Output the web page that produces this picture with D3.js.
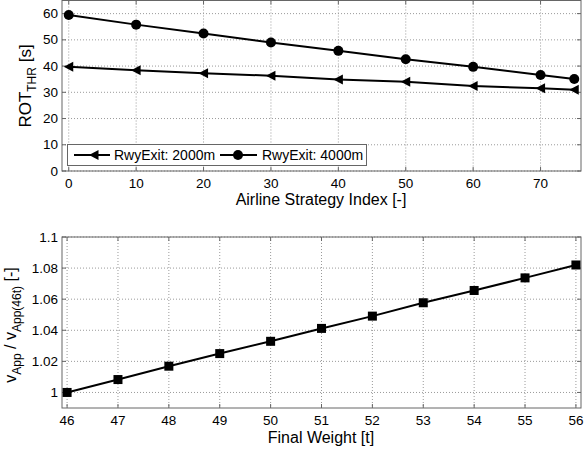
<!DOCTYPE html>
<html><head><meta charset="utf-8">
<script src="https://cdn.jsdelivr.net/npm/d3@7"></script>
<style>
body{margin:0;background:#fff;}
text{font-family:"Liberation Sans",Arial,sans-serif;fill:#000;}
</style></head>
<body><svg id="c" width="584" height="450"></svg>
<script>
// Top chart data
const strategyIdx = [0,10,20,30,40,50,60,70,75];
const rot2000 = [39.7,38.4,37.3,36.3,34.9,34.0,32.4,31.5,31.0];
const rot4000 = [59.5,55.8,52.4,49.0,45.8,42.6,39.7,36.6,35.1];
const topXTicks = [0,10,20,30,40,50,60,70];
const topYTicks = [0,10,20,30,40,50,60];
const legendLabels = ["RwyExit: 2000m","RwyExit: 4000m"];
// Bottom chart data
const finalWeight = [46,47,48,49,50,51,52,53,54,55,56];
const vRatio = [1.000,1.0083,1.0169,1.025,1.0329,1.0412,1.0491,1.0577,1.0656,1.0737,1.082];
const botXTicks = [46,47,48,49,50,51,52,53,54,55,56];
const botYTicks = [1,1.02,1.04,1.06,1.08,1.1];

const svg = d3.select("#c");
const L = 62, R = 581;

function axesBox(g, x, y, xt, yt, yfmt){
  const [x0,x1] = x.range(), [y0,y1] = y.range();
  xt.forEach(d=>{
    g.append("line").attr("x1",x(d)).attr("x2",x(d)).attr("y1",y1).attr("y2",y0)
      .attr("stroke","#9a9a9a").attr("stroke-width",1).attr("stroke-dasharray","1,2");
  });
  yt.forEach(d=>{
    g.append("line").attr("x1",x0).attr("x2",x1).attr("y1",y(d)).attr("y2",y(d))
      .attr("stroke","#9a9a9a").attr("stroke-width",1).attr("stroke-dasharray","1,2");
  });
  const tl = 4;
  xt.forEach(d=>{
    g.append("line").attr("x1",x(d)).attr("x2",x(d)).attr("y1",y0).attr("y2",y0-tl).attr("stroke","#666");
    g.append("line").attr("x1",x(d)).attr("x2",x(d)).attr("y1",y1).attr("y2",y1+tl).attr("stroke","#666");
  });
  yt.forEach(d=>{
    g.append("line").attr("x1",x0).attr("x2",x0+tl).attr("y1",y(d)).attr("y2",y(d)).attr("stroke","#666");
    g.append("line").attr("x1",x1).attr("x2",x1-tl).attr("y1",y(d)).attr("y2",y(d)).attr("stroke","#666");
  });
  g.append("rect").attr("x",x0).attr("y",y1).attr("width",x1-x0).attr("height",y0-y1)
    .attr("fill","none").attr("stroke","#666").attr("stroke-width",1);
  g.selectAll(".xl").data(xt).join("text").attr("x",d=>x(d)).attr("y",y0+17)
    .attr("text-anchor","middle").attr("font-size",13.5).text(d=>d);
  g.selectAll(".yl").data(yt).join("text").attr("x",x0-4).attr("y",d=>y(d)+4.5)
    .attr("text-anchor","end").attr("font-size",13.5).text(yfmt);
}

// ---------- Top chart ----------
const xT = d3.scaleLinear().domain([-1,76]).range([L,R]);
const yT = d3.scaleLinear().domain([0,65]).range([171,0.5]);
const gT = svg.append("g");
axesBox(gT, xT, yT, topXTicks, topYTicks, d=>d);

const lineT = d3.line().x((d,i)=>xT(strategyIdx[i])).y(d=>yT(d));
gT.append("path").attr("d",lineT(rot2000)).attr("fill","none").attr("stroke","#000").attr("stroke-width",2);
gT.append("path").attr("d",lineT(rot4000)).attr("fill","none").attr("stroke","#000").attr("stroke-width",2);
const tri = (cx,cy,s)=>`M${cx-s},${cy}L${cx+s*0.9},${cy-s}L${cx+s*0.9},${cy+s}Z`;
gT.selectAll(".tri").data(rot2000).join("path")
  .attr("d",(d,i)=>tri(xT(strategyIdx[i]),yT(d),5)).attr("fill","#000");
gT.selectAll(".cir").data(rot4000).join("circle")
  .attr("cx",(d,i)=>xT(strategyIdx[i])).attr("cy",d=>yT(d)).attr("r",5).attr("fill","#000");

// legend
const lg = gT.append("g");
lg.append("rect").attr("x",67.5).attr("y",144.5).attr("width",299).attr("height",21)
  .attr("fill","#fff").attr("stroke","#666");
lg.append("line").attr("x1",74).attr("x2",110).attr("y1",155).attr("y2",155).attr("stroke","#000").attr("stroke-width",2);
lg.append("path").attr("d",tri(94,155,5)).attr("fill","#000");
lg.append("text").attr("x",114).attr("y",160).attr("font-size",14).text(legendLabels[0]);
lg.append("line").attr("x1",220).attr("x2",257).attr("y1",155).attr("y2",155).attr("stroke","#000").attr("stroke-width",2);
lg.append("circle").attr("cx",238).attr("cy",155).attr("r",5).attr("fill","#000");
lg.append("text").attr("x",262).attr("y",160).attr("font-size",14).text(legendLabels[1]);

gT.append("text").attr("x",321).attr("y",205).attr("text-anchor","middle").attr("font-size",16)
  .text("Airline Strategy Index [-]");
const ylT = gT.append("text").attr("transform","translate(31,86) rotate(-90)")
  .attr("text-anchor","middle").attr("font-size",17);
ylT.append("tspan").text("ROT");
ylT.append("tspan").attr("font-size",12).attr("dy",5).text("THR");
ylT.append("tspan").attr("dy",-5).text(" [s]");

// ---------- Bottom chart ----------
const xB = d3.scaleLinear().domain([45.9,56.1]).range([L,R]);
const yB = d3.scaleLinear().domain([0.99,1.1]).range([408,237]);
const gB = svg.append("g");
axesBox(gB, xB, yB, botXTicks, botYTicks, d=>d3.format("")(+d.toFixed(2)));
const lineB = d3.line().x((d,i)=>xB(finalWeight[i])).y(d=>yB(d));
gB.append("path").attr("d",lineB(vRatio)).attr("fill","none").attr("stroke","#000").attr("stroke-width",2);
gB.selectAll(".sq").data(vRatio).join("rect")
  .attr("x",(d,i)=>xB(finalWeight[i])-4.5).attr("y",d=>yB(d)-4.5).attr("width",9).attr("height",9).attr("fill","#000");
gB.append("text").attr("x",321).attr("y",443).attr("text-anchor","middle").attr("font-size",16)
  .text("Final Weight [t]");
const ylB = gB.append("text").attr("transform","translate(16,325) rotate(-90)")
  .attr("text-anchor","middle").attr("font-size",16);
ylB.append("tspan").text("v");
ylB.append("tspan").attr("font-size",12).attr("dy",5).text("App");
ylB.append("tspan").attr("dy",-5).text(" / v");
ylB.append("tspan").attr("font-size",12).attr("dy",5).text("App(46t)");
ylB.append("tspan").attr("dy",-5).text(" [-]");
</script></body></html>
